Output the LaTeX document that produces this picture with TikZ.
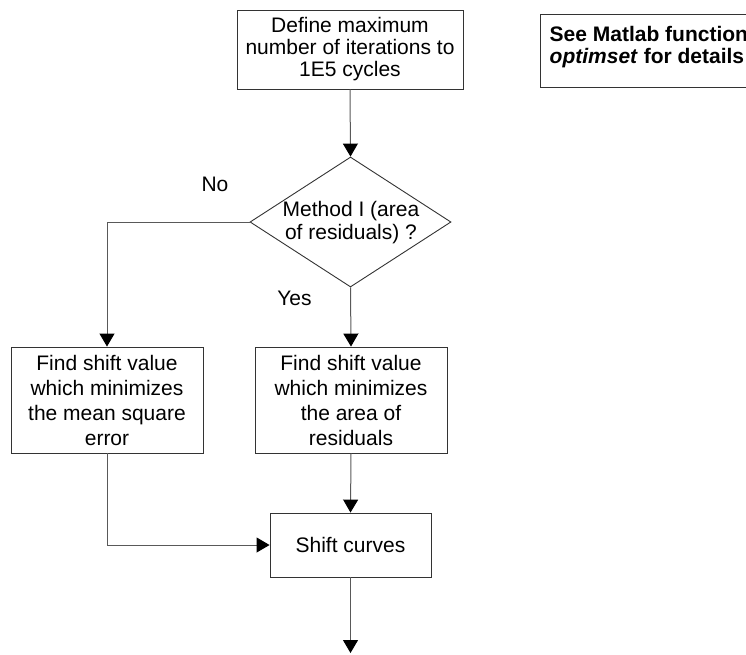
\documentclass[tikz,border=0pt]{standalone}
\usepackage{fontspec}
\setmainfont{Liberation Sans}
\usetikzlibrary{arrows.meta,shapes.geometric}
\begin{document}
\begin{tikzpicture}[x=1pt,y=-1pt,
  box/.style={draw=black!80,line width=0.9pt,inner sep=0pt,align=center,
    font=\fontsize{21}{25}\selectfont},
  conn/.style={draw=black!65,line width=1pt,-{Triangle[length=13pt,width=15pt,fill=black,color=black]}},
  lbl/.style={font=\fontsize{21}{23}\selectfont,inner sep=0pt}]
\useasboundingbox (0,0) rectangle (746,654);
% nodes
\node[box,minimum width=226pt,minimum height=79pt,font=\fontsize{21}{22}\selectfont] (def) at (350,49.5)
  {Define maximum\\number of iterations to\\1E5 cycles};
\node[draw=black!80,line width=0.9pt,minimum width=220pt,minimum height=73pt,inner sep=0pt] (note) at (650,50.5) {};
\node[anchor=west,align=left,inner sep=0pt,font=\fontsize{21}{22}\selectfont\bfseries] (notetext) at (549.5,47)
  {See Matlab function\\\textit{optimset} for details};
\node[draw=black!80,line width=0.9pt,shape=diamond,minimum width=201pt,minimum height=130pt,inner sep=0pt,aspect=1.55] (dec) at (350.5,222) {};
\node[lbl,align=center] (dectext) at (351,222.5) {Method I (area\\of residuals) ?};
\node[box,minimum width=192pt,minimum height=106pt] (mse) at (107,400)
  {Find shift value\\which minimizes\\the mean square\\error};
\node[box,minimum width=192pt,minimum height=106pt] (area) at (351,400)
  {Find shift value\\which minimizes\\the area of\\residuals};
\node[box,minimum width=161pt,minimum height=64pt] (shift) at (350.5,545) {Shift curves};
\node[lbl] (no) at (215,184) {No};
\node[lbl] (yes) at (294.5,298) {Yes};
\coordinate (end) at (350.5,653);
% connectors
\draw[conn] (def.south) -- (dec.north);
\draw[conn] (dec.west) -| (mse.north);
\draw[conn] (dec.south) -- (area.north);
\draw[conn] (mse.south) |- (shift.west);
\draw[conn] (area.south) -- (shift.north);
\draw[conn] (shift.south) -- (end);
\end{tikzpicture}
\end{document}
